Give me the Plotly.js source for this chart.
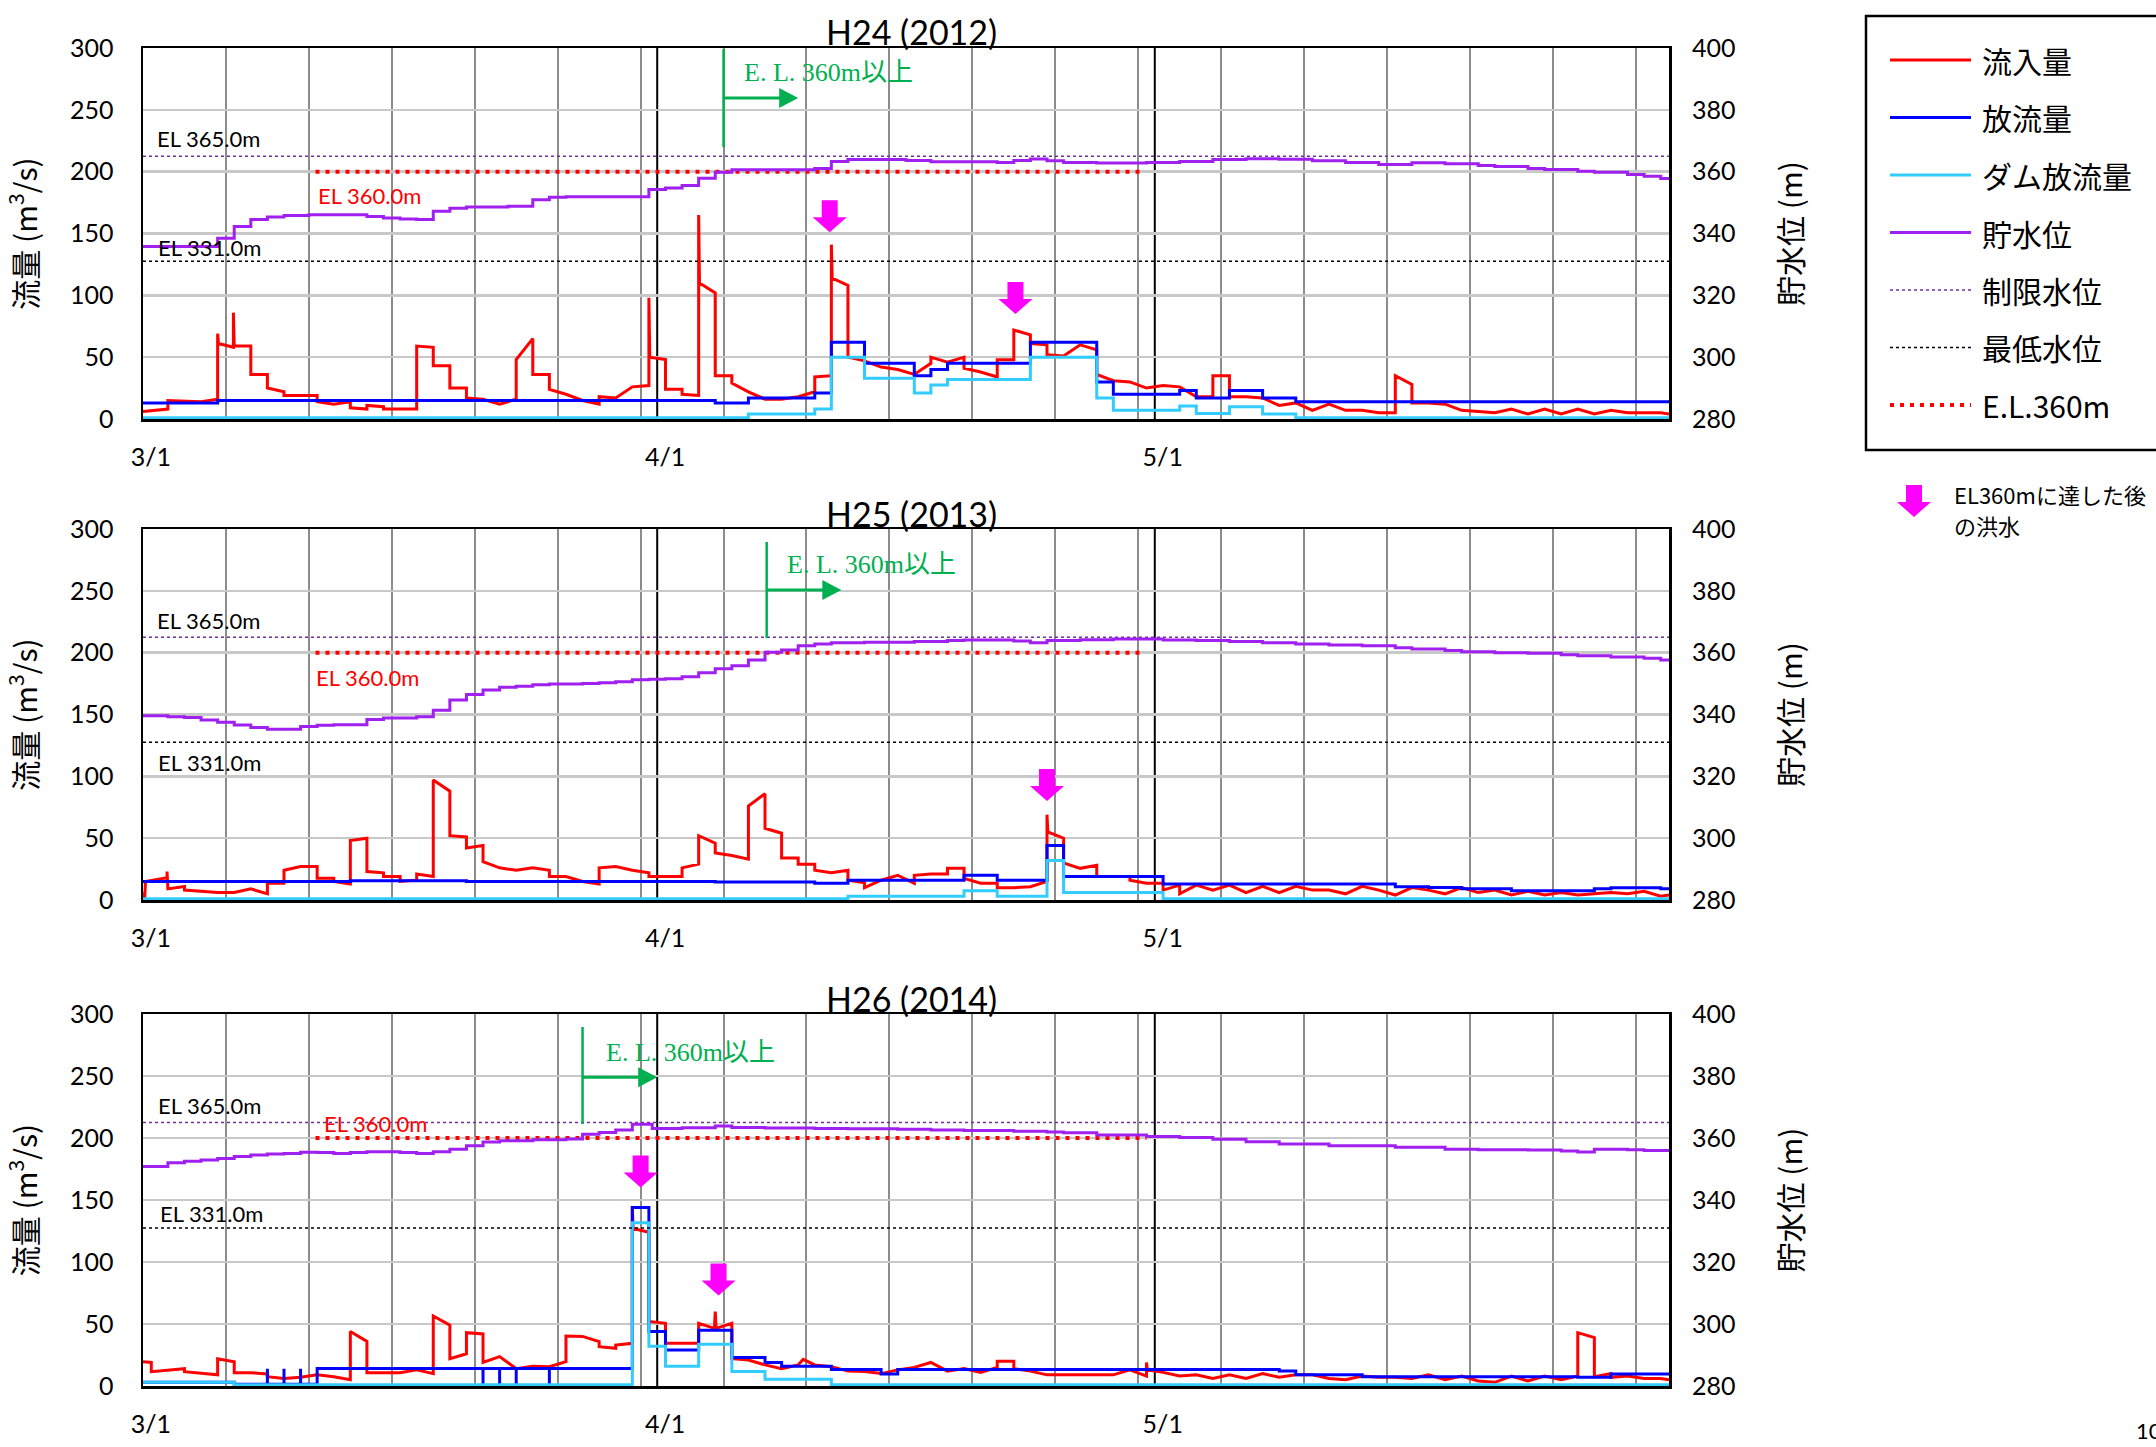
<!DOCTYPE html>
<html><head><meta charset="utf-8">
<script src="https://cdn.plot.ly/plotly-3.0.1.min.js"></script>
<style>html,body{margin:0;padding:0;background:#fff}#chart{width:2156px;height:1447px}</style>
</head><body><div id="chart"></div>
<script>
// ================= DATA (day 0 = 3/1) =================
const monthTickText = ['3/1', '4/1', '5/1'];
const monthStartDays = [0, 31, 61];
const monthLineDays = [31, 61];
const yearTitles = ['H24 (2012)', 'H25 (2013)', 'H26 (2014)'];

const dayRange = [0, 92];
const flowRange = [0, 300];
const levelRange = [280, 400];
const limitLevel = 365;   // 制限水位
const minLevel = 331;     // 最低水位
const targetLevel = 360;  // E.L.360m
const targetSpans = [[10.4, 60.4], [10.4, 60.4], [10.4, 60.5]];
const reach360Days = [35.0, 37.6, 26.5];

// 流入量 (m3/s) [day, value]
const inflow2012 = [[0,6],[1.5,8],[1.5,15],[3.5,14],[4.5,16],[4.5,69],[4.55,61],[5.45,58],[5.45,86],[5.5,59],[6.5,59],[6.5,36],[7.5,36],[7.5,25],[8.5,22],[8.5,19],[10.5,19],[10.5,14],[11.5,12],[12.5,14],[12.5,9],[13.5,8],[13.5,11],[14.5,10],[14.5,8],[16.5,8],[16.5,59],[17.5,58],[17.5,43],[18.5,43],[18.5,25],[19.5,25],[19.5,17],[20.5,16],[21.5,12],[22.5,16],[22.5,48],[23.5,65],[23.5,36],[24.5,36],[24.5,24],[25.5,20],[26.5,15],[27.5,12],[27.5,18],[28.5,17],[29.5,26],[30.5,27],[30.5,98],[30.55,50],[31.5,48],[31.5,24],[32.5,24],[32.5,20],[33.5,19],[33.5,165],[33.55,110],[34.5,102],[34.5,35],[35.5,35],[35.5,29],[36.5,22],[37.5,16],[38.5,16],[39.5,18],[40.5,22],[40.5,34],[41.5,35],[41.5,141],[41.55,114],[42.5,108],[42.5,50],[43.5,47],[44.5,42],[45.5,40],[46.5,36],[47.5,45],[47.5,50],[48.5,46],[49.5,50],[49.5,41],[50.5,38],[51.5,34],[51.5,48],[52.5,48],[52.5,72],[53.5,68],[53.5,61],[54.5,60],[54.5,52],[55.5,51],[56.5,60],[57.5,56],[57.5,36],[58.5,31],[59.5,30],[60.5,25],[61.5,27],[62.5,26],[63.5,18],[64.5,18],[64.5,35],[65.5,35],[65.5,18],[66.5,18],[67.5,17],[68.5,11],[69.5,13],[70.5,7],[71.5,12],[72.5,7],[73.5,7],[74.5,5],[75.5,5],[75.5,35],[76.5,28],[76.5,13],[77.5,13],[78.5,12],[79.5,7],[80.5,6],[81.5,5],[82.5,8],[83.5,4],[84.5,8],[85.5,4],[86.5,8],[87.5,4],[88.5,7],[89.5,5],[90.5,5],[91.5,5],[92,4]];
// 放流量
const outflow2012 = [[0,13],[4.5,15],[34.5,13],[36.5,17],[40.5,21],[41.5,62],[43.5,45],[46.5,35],[47.5,40],[48.5,45],[53.5,62],[57.5,30],[58.5,20],[62.5,23],[63.5,17],[65.5,23],[67.5,17],[69.5,14],[92,14]];
// ダム放流量
const damOutflow2012 = [[0,1],[36.5,4],[40.5,8],[41.5,50],[43.5,33],[46.5,21],[47.5,27.5],[48.5,32],[53.5,50],[57.5,17],[58.5,7],[62.5,10.5],[63.5,4.5],[65.5,10],[67.5,4],[69.5,1],[92,1]];
// 貯水位 (m)
const level2012 = [[0,335.8],[4.5,338.5],[5.5,342.3],[6.5,344.5],[7.5,345.3],[8.5,345.8],[10,346.1],[13.5,345.5],[14.5,345],[15.5,344.7],[16.5,344.5],[17.5,347.2],[18.5,348.2],[19.5,348.6],[22,348.8],[23.5,350.9],[24.5,351.7],[25.5,351.9],[30.5,354.2],[31.5,354.7],[32.5,355.5],[33.5,357.9],[34.5,359.8],[35.5,360.6],[40.5,361.0],[41.5,363.3],[42.5,363.9],[46,363.6],[47.5,363.2],[51.5,363.0],[52.5,363.6],[53.5,364.1],[54.5,363.5],[55.5,363.0],[57.5,362.8],[60.5,363.0],[62.5,363.3],[64.5,363.9],[66.5,364.2],[68.5,364.0],[70.5,363.5],[72.5,363.0],[74.5,362.3],[76.5,362.9],[78.5,362.6],[80.5,362.0],[81.5,361.7],[83.5,361.0],[84.5,360.7],[86.5,360.1],[87.5,359.8],[89.5,359.1],[90.5,358.5],[91.5,357.8],[92,357.7]];

const inflow2013 = [[0,6],[0.1,0],[0.15,15],[1.45,18],[1.45,23],[1.5,9],[2.5,11],[2.5,8],[3.5,7],[4.5,6],[5.5,6],[6.5,9],[7.5,5],[7.5,13.5],[8.5,13.5],[8.5,24],[9.5,27],[10.5,27],[10.5,17.5],[11.5,17.5],[11.5,15],[12.5,13],[12.5,48],[13.5,50],[13.5,23],[14.5,22],[14.5,19],[15.5,19],[15.5,15],[16.5,16],[16.5,21],[17.5,19],[17.5,97],[18.5,88],[18.5,52],[19.5,51],[19.5,42],[20.5,44],[20.5,31],[21.5,26],[22.5,24],[23.5,26],[24.5,24],[24.5,19],[25.5,19],[26.5,15],[27.5,13],[27.5,26],[28.5,27],[29.5,24],[30.5,22],[30.5,19],[32.5,19],[32.5,26],[33.5,29],[33.5,52],[34.5,46],[34.5,38],[35.5,36],[36.5,33],[36.5,76],[37.5,86],[37.5,58],[38.5,54],[38.5,34],[39.5,34],[39.5,29],[40.5,29],[40.5,24],[41.5,22],[42.5,24],[42.5,16],[43.5,14],[43.5,10],[44.5,16],[45.5,20],[46.5,13.5],[46.5,20],[47.5,21],[48.5,21],[48.5,25.6],[49.5,25.6],[49.5,17.5],[50.5,13.5],[51.5,13.5],[51.5,10],[52.5,10],[53.5,10.8],[54.5,15],[54.5,69],[54.55,55],[55.5,50],[55.5,30],[56.5,25.6],[57.5,28],[57.5,19],[59.5,19],[59.5,16],[60.5,13.5],[61.5,13.5],[61.5,8],[62.5,12],[62.5,5],[63.5,12],[64.5,8],[65.5,12],[66.5,6],[67.5,11],[68.5,6],[69.5,11],[70.5,8],[71.5,8],[72.5,5],[73.5,11],[74.5,8],[75.5,4],[76.5,10],[77.5,8],[78.5,5],[79.5,10],[80.5,6],[81.5,8],[82.5,4],[83.5,7],[84.5,4],[85.5,6],[86.5,4],[87.5,5],[88.5,6],[89.5,5],[90.5,7],[91.5,3],[92,4]];
const outflow2013 = [[0,15],[12.5,15.5],[19.5,15],[34.5,14.5],[40.5,13.5],[42.5,16],[49.5,20],[51.5,16],[54.5,44],[55.5,19],[61.5,13],[75.5,10.8],[77.5,10.2],[79.5,9],[82.5,7.5],[87.5,9],[88.5,10],[91.5,9],[92,9]];
const damOutflow2013 = [[0,1],[42.5,3],[49.5,7.5],[51.5,3],[54.5,32],[55.5,6],[61.5,1],[92,1]];
const level2013 = [[0,339.6],[1.5,339.3],[2.5,339.0],[3.5,338.2],[4.5,337.5],[5.5,336.6],[6.5,335.8],[7.5,335.2],[9.5,336.1],[10.5,336.5],[11.5,336.7],[13.5,338.4],[14.5,338.9],[16.5,339.3],[17.5,341.4],[18.5,344.7],[19.5,346.5],[20.5,347.9],[21.5,348.8],[22.5,349.1],[23.5,349.6],[24.5,349.9],[26.5,350.0],[27.5,350.3],[28.5,350.6],[29.5,351.2],[30.5,351.4],[31.5,351.6],[32.5,352.2],[33.5,353.5],[34.5,354.8],[35.5,355.8],[36.5,357.6],[37.5,360.1],[38.5,360.9],[39.5,362.2],[40.5,362.8],[41.5,363.2],[43.5,363.4],[46.5,363.6],[48.5,363.9],[49.5,364.1],[52.5,363.8],[53.5,363.2],[54.5,363.9],[56.5,364.2],[58.5,364.4],[61.5,364.1],[63.5,363.9],[65.5,363.6],[67.5,363.2],[69.5,362.8],[71.5,362.5],[73.5,362.2],[75.5,361.6],[76.5,361.2],[78.5,360.7],[79.5,360.3],[81.5,360.0],[83.5,359.8],[85.5,359.3],[86.5,359.0],[88.5,358.6],[90.5,358.2],[91.5,357.6],[92,357.6]];

const inflow2014 = [[0,19.6],[0.5,19],[0.5,11.6],[1.5,13],[2.5,14],[2.5,11.5],[3.5,10],[4.5,9],[4.5,22],[5.5,19.6],[5.5,10.7],[6.5,10.7],[7.5,9.7],[7.5,7.5],[8.5,6],[9.5,7],[10.5,9],[11.5,7.5],[12.5,5],[12.5,44],[13.5,36],[13.5,10.7],[15.5,10.7],[16.5,13],[17.5,10],[17.5,56.5],[18.5,49],[18.5,22],[19.5,26],[19.5,43],[20.5,42],[20.5,19],[21.5,23.7],[22.5,14],[23.5,16],[24.5,15.6],[25.5,19.6],[25.5,40.3],[26.5,40],[27.5,35.8],[27.5,31.7],[28.5,30.4],[28.5,33],[29.5,34.4],[29.5,145],[29.55,127],[30.5,124],[30.5,52],[31.5,50.5],[31.5,34.4],[33.5,34.4],[33.5,50.5],[34.45,46.5],[34.5,60],[34.55,46.5],[35.5,50.5],[35.5,22],[36.5,21],[37.5,17],[38.5,14],[39.5,17],[39.8,21.5],[40.5,17],[41.5,15.6],[42.5,12],[43.5,11.6],[44.5,10],[45.5,13],[46.5,15],[47.5,19],[48.5,12],[49.5,14],[50.5,11],[51.5,15],[51.5,20],[52.5,20],[52.5,14],[53.5,12],[54.5,9],[55.5,9],[57.5,9],[58.5,9],[59.5,13],[60.5,8],[60.5,19],[60.55,13],[61.5,11],[62.5,8],[63.5,9],[64.5,6],[65.5,9],[66.5,6],[67.5,10],[68.5,7],[69.5,9],[70.5,9],[71.5,6],[72.5,5],[73.5,8],[74.5,7],[75.5,7],[76.5,6],[77.5,9],[78.5,5],[79.5,8],[80.5,4],[81.5,3],[82.5,8],[83.5,4],[84.5,8],[85.5,5],[86.5,8],[86.5,43],[87.5,39],[87.5,7.5],[88.5,10],[88.5,7],[89.5,8],[90.5,6],[91.5,6],[92,5]];
const outflow2014 = [[0,3],[5.5,1.5],[7.5,14],[7.5,1.5],[8.5,14],[8.5,1.5],[9.5,14],[9.5,1.5],[10.5,14.2],[20.5,0],[20.5,14.2],[21.5,0],[21.5,14.2],[22.5,0],[22.5,14.2],[24.5,0],[24.5,14.2],[29.5,144],[30.5,44],[31.5,29],[33.5,45],[35.5,23],[37.5,19],[38.5,16],[41.5,13.4],[44.5,9.7],[45.5,13.4],[67.5,13.4],[68.5,12],[69.5,9],[73.5,7.5],[86.5,7],[88.5,9.7],[92,9.7]];
const damOutflow2014 = [[0,3],[5.5,1],[29.5,131.7],[30.5,32],[31.5,16],[33.5,33.6],[35.5,11.6],[37.5,5.4],[41.5,1],[92,1]];
const level2014 = [[0,350.8],[1.5,352.0],[2.5,352.5],[3.5,352.9],[4.5,353.4],[5.5,354.0],[6.5,354.5],[7.5,354.8],[8.5,355.0],[9.5,355.4],[10.5,355.3],[11.5,355.0],[12.5,355.3],[13.5,355.6],[15.5,355.3],[16.5,355.0],[17.5,355.6],[18.5,356.4],[19.5,357.5],[20.5,358.7],[21.5,359.1],[23.5,359.4],[25.5,359.7],[26.5,361.2],[27.5,361.8],[28.5,362.6],[29.5,364.4],[30.7,363.1],[32.5,363.3],[34.5,363.9],[35.5,363.4],[37.5,363.2],[40.5,363.1],[42.5,363.0],[45.5,362.8],[47.5,362.6],[49.5,362.4],[52.5,362.2],[54.5,361.9],[55.5,361.7],[57.5,361.0],[60.5,360.5],[62.5,360.2],[64.5,359.6],[66.5,358.8],[68.5,358.1],[71.5,357.5],[75.5,357.0],[78.5,356.4],[80.5,356.2],[83.5,356.1],[85.5,355.8],[86.5,355.5],[87.5,356.4],[89.5,356.2],[90.5,356.0],[92,355.6]];

// floods after reaching EL360m: [day, flow at arrow tip]
const floods2012 = [[41.4,151],[52.6,85]];
const floods2013 = [[54.5,80]];
const floods2014 = [[30.0,160],[34.7,73]];

const legendLabels = ['流入量', '放流量', 'ダム放流量', '貯水位', '制限水位', '最低水位', 'E.L.360m'];

// ================= LAYOUT HELPERS =================
const W = 2156, H = 1447, M = {l: 143, r: 487, t: 48, b: 61};
const PW = W - M.l - M.r, PH = H - M.t - M.b;
const PX = X => (X - M.l) / PW;
const PY = Y => (H - M.b - Y) / PH;

const C = {red: '#ff0000', blue: '#0000ff', cyan: '#33ccff', purple: '#a020f0',
  limit: '#7030a0', green: '#00b050', magenta: '#ff00ff'};
const tickFont = {family: 'Lato, "Noto Sans", sans-serif', size: 25, color: '#000'};
const cjk = '"Noto Sans CJK JP", "Noto Sans", sans-serif';

const panels = [
  {inflow: inflow2012, out: outflow2012, dam: damOutflow2012, level: level2012, floods: floods2012,
   dom: [PY(419), PY(48)], titleY: PY(31),
   lab365: [0.7, 227], lab360: [10.4, 181], lab331: [0.8, 139],
   green: {dom: [0.733, 0.997], arrowY: 259.5, textX: 36.1, textY: 280.5}},
  {inflow: inflow2013, out: outflow2013, dam: damOutflow2013, level: level2013, floods: floods2013,
   dom: [PY(900), PY(529)], titleY: PY(513),
   lab365: [0.7, 226], lab360: [10.3, 180], lab331: [0.8, 111],
   green: {dom: [0.706, 0.965], arrowY: 250.6, textX: 38.7, textY: 271.6}},
  {inflow: inflow2014, out: outflow2014, dam: damOutflow2014, level: level2014, floods: floods2014,
   dom: [PY(1386), PY(1014)], titleY: PY(998),
   lab365: [0.8, 226], lab360: [10.8, 212], lab331: [0.9, 139.5],
   green: {dom: [0.704, 0.965], arrowY: 249, textX: 27.8, textY: 269}}
];

const traces = [], shapes = [], annotations = [];
const layout = {
  width: W, height: H, margin: M, paper_bgcolor: '#fff', plot_bgcolor: '#fff',
  showlegend: false, font: {family: 'Lato, sans-serif', color: '#000'}
};

const arrowPath = 'M0,0 L-17,15 L-8,15 L-8,32 L8,32 L8,15 L17,15 Z';
const headPath = 'M0,0 L-19,10 L-19,-10 Z';

panels.forEach((p, i) => {
  const xa = i === 0 ? 'x' : 'x' + (i + 1);
  const yl = 'y' + (i === 0 ? '' : (2 * i + 1));
  const yr = 'y' + (2 * i + 2);
  const xKey = 'xaxis' + (i === 0 ? '' : (i + 1));
  const ylKey = 'yaxis' + (i === 0 ? '' : (2 * i + 1));
  const yrKey = 'yaxis' + (2 * i + 2);
  const xs = a => a.map(d => d[0]), ys = a => a.map(d => d[1]);

  // reference levels as line traces on the water-level axis
  traces.push({type: 'scatter', mode: 'lines', x: dayRange, y: [limitLevel, limitLevel], xaxis: xa, yaxis: yr,
    line: {color: C.limit, width: 1.5, dash: 'dot'}, hoverinfo: 'skip'});
  traces.push({type: 'scatter', mode: 'lines', x: dayRange, y: [minLevel, minLevel], xaxis: xa, yaxis: yr,
    line: {color: '#000', width: 1.5, dash: 'dot'}, hoverinfo: 'skip'});
  traces.push({type: 'scatter', mode: 'lines', x: targetSpans[i], y: [targetLevel, targetLevel], xaxis: xa, yaxis: yr,
    line: {color: C.red, width: 4, dash: '4px,6px'}, hoverinfo: 'skip'});
  // data series
  traces.push({type: 'scatter', mode: 'lines', x: xs(p.inflow), y: ys(p.inflow), xaxis: xa, yaxis: yl,
    line: {color: C.red, width: 3}, hoverinfo: 'skip'});
  traces.push({type: 'scatter', mode: 'lines', x: xs(p.out), y: ys(p.out), xaxis: xa, yaxis: yl,
    line: {color: C.blue, width: 3, shape: 'hv'}, hoverinfo: 'skip'});
  traces.push({type: 'scatter', mode: 'lines', x: xs(p.dam), y: ys(p.dam), xaxis: xa, yaxis: yl,
    line: {color: C.cyan, width: 3, shape: 'hv'}, hoverinfo: 'skip'});
  traces.push({type: 'scatter', mode: 'lines', x: xs(p.level), y: ys(p.level), xaxis: xa, yaxis: yr,
    line: {color: C.purple, width: 3, shape: 'hv'}, hoverinfo: 'skip'});

  layout[xKey] = {domain: [0, 1], anchor: yl, range: dayRange, tickmode: 'array',
    tickvals: monthStartDays.map(d => d + 0.48), ticktext: monthTickText,
    showgrid: false, zeroline: false, showline: true, mirror: true, linecolor: '#000', linewidth: 2.5,
    ticks: '', ticklabelstandoff: 14, tickfont: tickFont, fixedrange: true,
    minor: {tickmode: 'linear', tick0: 0, dtick: 5, showgrid: true, gridcolor: '#8c8c8c', gridwidth: 2, ticks: ''}};
  layout[ylKey] = {domain: p.dom, anchor: xa, range: flowRange, tickmode: 'linear', tick0: 0, dtick: 50,
    showgrid: true, gridcolor: '#c8c8c8', gridwidth: 2.5, zeroline: false,
    showline: true, mirror: true, linecolor: '#000', linewidth: 2.5, ticks: '', ticklabelstandoff: 22,
    tickfont: tickFont, fixedrange: true,
    title: {text: '流量 (m<sup>3</sup>/s)', font: {family: cjk, size: 30, color: '#000'}, standoff: 24}};
  layout[yrKey] = {overlaying: yl, anchor: xa, side: 'right', range: levelRange, tickmode: 'linear',
    tick0: 280, dtick: 20, showgrid: false, zeroline: false, showline: false, ticks: '',
    ticklabelstandoff: 22, tickfont: tickFont, fixedrange: true,
    title: {text: '貯水位 (m)', font: {family: cjk, size: 30, color: '#000'}, standoff: 46}};

  // month boundary lines
  monthLineDays.forEach(d => shapes.push({type: 'line', layer: 'below', xref: xa, yref: yl + ' domain',
    x0: d, x1: d, y0: 0, y1: 1, line: {color: '#000', width: 2}}));
  // green EL360 marker: vertical bar + arrow
  const r = reach360Days[i];
  shapes.push({type: 'line', layer: 'above', xref: xa, yref: yl + ' domain', x0: r, x1: r,
    y0: p.green.dom[0], y1: p.green.dom[1], line: {color: C.green, width: 2.5}});
  shapes.push({type: 'line', layer: 'above', xref: xa, yref: yl, x0: r, x1: r + 3.8,
    y0: p.green.arrowY, y1: p.green.arrowY, line: {color: C.green, width: 3}});
  shapes.push({type: 'path', layer: 'above', xref: xa, yref: yl, xsizemode: 'pixel', ysizemode: 'pixel',
    xanchor: r + 4.5, yanchor: p.green.arrowY, path: headPath, fillcolor: C.green, line: {width: 0}});
  annotations.push({xref: xa, yref: yl, x: p.green.textX, y: p.green.textY, xanchor: 'left', yanchor: 'middle',
    text: 'E. L. 360m以上', showarrow: false,
    font: {family: '"Liberation Serif", "DejaVu Serif", "Noto Sans CJK JP", serif', size: 26, color: C.green}});
  // flood arrows
  p.floods.forEach(f => shapes.push({type: 'path', layer: 'above', xref: xa, yref: yl,
    xsizemode: 'pixel', ysizemode: 'pixel', xanchor: f[0], yanchor: f[1], path: arrowPath,
    fillcolor: C.magenta, line: {width: 0}}));
  // labels
  const lab = (pos, txt, col) => annotations.push({xref: xa, yref: yl, x: pos[0], y: pos[1], xanchor: 'left',
    yanchor: 'middle', text: txt, showarrow: false, font: {family: 'Lato, sans-serif', size: 22, color: col}});
  lab(p.lab365, 'EL 365.0m', '#000');
  lab(p.lab360, 'EL 360.0m', C.red);
  lab(p.lab331, 'EL 331.0m', '#000');
  // title
  annotations.push({xref: 'paper', yref: 'paper', x: PX(912), y: p.titleY, xanchor: 'center', yanchor: 'middle',
    text: yearTitles[i], showarrow: false, font: {family: 'Lato, sans-serif', size: 34, color: '#000'}});
});

// ================= LEGEND =================
shapes.push({type: 'rect', layer: 'above', xref: 'paper', yref: 'paper', x0: PX(1866), x1: PX(2175), y0: PY(450), y1: PY(16),
  line: {color: '#000', width: 2.5}, fillcolor: 'rgba(0,0,0,0)'});
const legStyles = [
  {color: C.red, width: 3}, {color: C.blue, width: 3}, {color: C.cyan, width: 3}, {color: C.purple, width: 3},
  {color: C.limit, width: 1.5, dash: 'dot'}, {color: '#000', width: 1.5, dash: 'dot'},
  {color: C.red, width: 4, dash: '4px,6px'}];
legendLabels.forEach((t, k) => {
  const Y = 60 + k * 57.5;
  shapes.push({type: 'line', layer: 'above', xref: 'paper', yref: 'paper', x0: PX(1890), x1: PX(1971), y0: PY(Y), y1: PY(Y),
    line: legStyles[k]});
  annotations.push({xref: 'paper', yref: 'paper', x: PX(1980), y: PY(Y), xanchor: 'left', yanchor: 'middle',
    text: t, showarrow: false, font: {family: cjk, size: 30, color: '#000'}});
});
shapes.push({type: 'path', layer: 'above', xref: 'paper', yref: 'paper', xsizemode: 'pixel', ysizemode: 'pixel',
  xanchor: PX(1914), yanchor: PY(517), path: arrowPath, fillcolor: C.magenta, line: {width: 0}});
annotations.push({xref: 'paper', yref: 'paper', x: PX(1952), y: PY(494), xanchor: 'left', yanchor: 'middle',
  text: 'EL360mに達した後', showarrow: false, font: {family: cjk, size: 22, color: '#000'}});
annotations.push({xref: 'paper', yref: 'paper', x: PX(1952), y: PY(525), xanchor: 'left', yanchor: 'middle',
  text: 'の洪水', showarrow: false, font: {family: cjk, size: 22, color: '#000'}});
annotations.push({xref: 'paper', yref: 'paper', x: PX(2134), y: PY(1430), xanchor: 'left', yanchor: 'middle',
  text: '10', showarrow: false, font: {family: 'Lato, sans-serif', size: 22, color: '#000'}});

layout.shapes = shapes;
layout.annotations = annotations;

Plotly.newPlot('chart', traces, layout, {displayModeBar: false, staticPlot: true});
</script>
</body></html>
